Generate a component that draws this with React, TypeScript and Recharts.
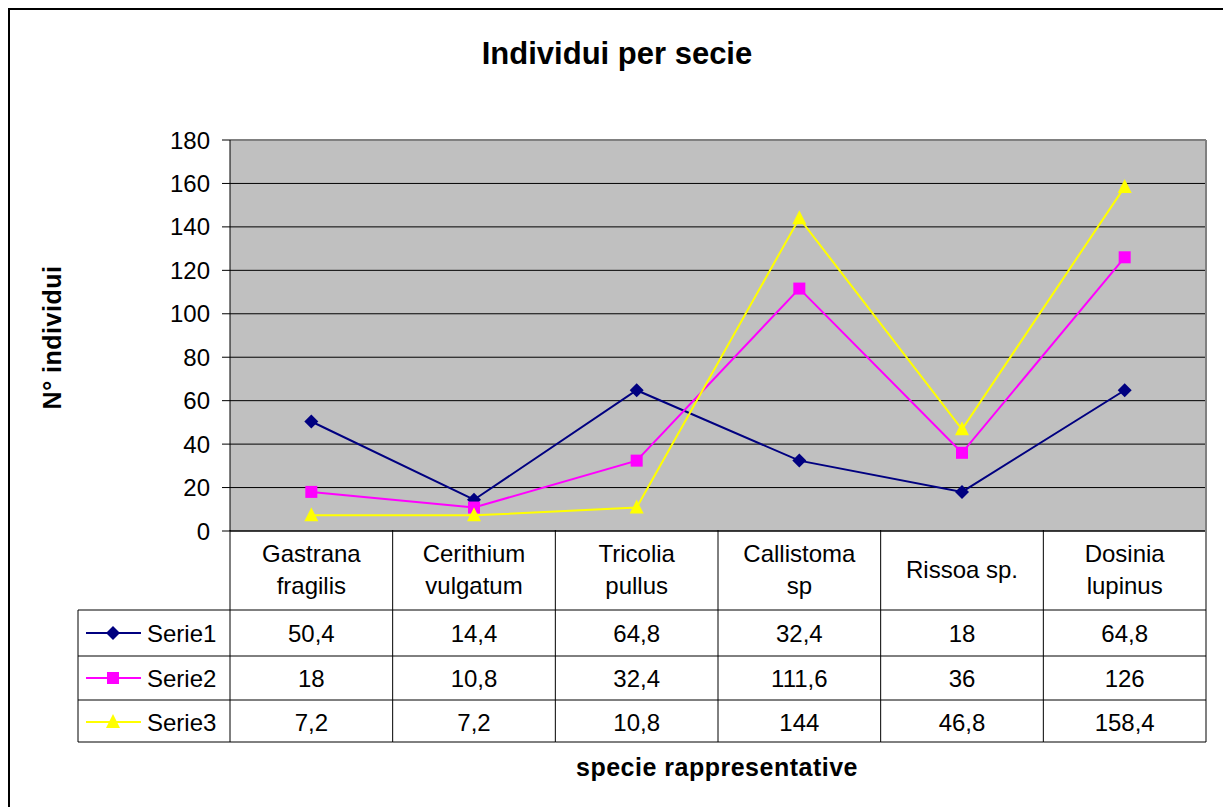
import { LineChart, Line, XAxis, YAxis, CartesianGrid, ReferenceLine } from "recharts";

const categories = [
  "Gastrana\nfragilis",
  "Cerithium\nvulgatum",
  "Tricolia\npullus",
  "Callistoma\nsp",
  "Rissoa sp.",
  "Dosinia\nlupinus",
];
const serie1 = [50.4, 14.4, 64.8, 32.4, 18, 64.8];
const serie2 = [18, 10.8, 32.4, 111.6, 36, 126];
const serie3 = [7.2, 7.2, 10.8, 144, 46.8, 158.4];
const seriesNames = ["Serie1", "Serie2", "Serie3"];
const yTicks = [0, 20, 40, 60, 80, 100, 120, 140, 160, 180];

const FONT = "Arial, 'Liberation Sans', sans-serif";

// layout of the plot area and the data table under it
const PLOT_LEFT = 230;
const PLOT_RIGHT = 1206;
const PLOT_TOP = 140;
const COL_W = (PLOT_RIGHT - PLOT_LEFT) / categories.length;
const ROW_LINES = [530, 610, 656, 700, 742];
const ROW_BASE = [642, 687, 731];
const LEGEND_LEFT = 78;

const seriesValues = [serie1, serie2, serie3];
const seriesStyle = [
  { key: "s1", color: "#000080", kind: "diamond" },
  { key: "s2", color: "#FF00FF", kind: "square" },
  { key: "s3", color: "#FFFF00", kind: "triangle" },
];

const rows = categories.map((name, i) => ({
  name,
  s1: serie1[i],
  s2: serie2[i],
  s3: serie3[i],
}));

const fmt = (v: number) => String(v).replace(".", ",");

function Marker({ kind, cx, cy, color }: { kind: string; cx: number; cy: number; color: string }) {
  if (kind === "diamond") {
    return (
      <polygon
        points={`${cx},${cy - 7} ${cx + 7},${cy} ${cx},${cy + 7} ${cx - 7},${cy}`}
        fill={color}
      />
    );
  }
  if (kind === "square") {
    return <rect x={cx - 6} y={cy - 6} width={12} height={12} fill={color} />;
  }
  return (
    <polygon
      points={`${cx},${cy - 8} ${cx + 7},${cy + 6} ${cx - 7},${cy + 6}`}
      fill={color}
    />
  );
}

function TableColumn(props: any) {
  const { x, index, payload } = props;
  const left = x - COL_W / 2;
  const right = x + COL_W / 2;
  const last = index === categories.length - 1;
  const lines = String(payload.value).split("\n");
  const catBase = lines.length === 1 ? [578] : [562, 594];
  const txt = { fontFamily: FONT, fontSize: 24, fill: "#000", textAnchor: "middle" as const };

  return (
    <g>
      {/* column borders */}
      <line x1={left} x2={left} y1={ROW_LINES[0]} y2={ROW_LINES[4]} stroke="#000" strokeWidth={1} />
      {last && (
        <line x1={right} x2={right} y1={PLOT_TOP} y2={ROW_LINES[4]} stroke="#808080" strokeWidth={2} />
      )}
      {ROW_LINES.slice(1).map((y) => (
        <line key={y} x1={left} x2={right} y1={y} y2={y} stroke="#000" strokeWidth={1} />
      ))}
      {lines.map((l, i) => (
        <text key={l} x={x} y={catBase[i]} {...txt}>
          {l}
        </text>
      ))}
      {seriesValues.map((vals, r) => (
        <text key={r} x={x} y={ROW_BASE[r]} {...txt}>
          {fmt(vals[index])}
        </text>
      ))}

      {/* legend column of the data table */}
      {index === 0 && (
        <g>
          <line x1={LEGEND_LEFT} x2={LEGEND_LEFT} y1={ROW_LINES[1]} y2={ROW_LINES[4]} stroke="#000" strokeWidth={1} />
          {ROW_LINES.slice(1).map((y) => (
            <line key={y} x1={LEGEND_LEFT} x2={left} y1={y} y2={y} stroke="#000" strokeWidth={1} />
          ))}
          {seriesStyle.map((s, r) => {
            const cy = ROW_BASE[r] - 9;
            return (
              <g key={s.key}>
                <line x1={86} x2={141} y1={cy} y2={cy} stroke={s.color} strokeWidth={2} />
                <Marker kind={s.kind} cx={113} cy={cy} color={s.color} />
                <text x={147} y={ROW_BASE[r]} fontFamily={FONT} fontSize={24} fill="#000">
                  {seriesNames[r]}
                </text>
              </g>
            );
          })}
        </g>
      )}
    </g>
  );
}

export default function App() {
  return (
    <div
      style={{
        position: "absolute",
        left: 0,
        top: 0,
        width: 1223,
        height: 807,
        overflow: "hidden",
        background: "#fff",
      }}
    >
      <div
        style={{
          position: "absolute",
          left: 8,
          top: 8,
          width: 1400,
          height: 1000,
          border: "2px solid #000",
        }}
      />
      <div
        style={{
          position: "absolute",
          left: 317,
          top: 38,
          width: 600,
          textAlign: "center",
          fontFamily: FONT,
          fontWeight: "bold",
          fontSize: 31,
          lineHeight: "31px",
        }}
      >
        Individui per secie
      </div>
      <div
        style={{
          position: "absolute",
          left: 517,
          top: 755,
          width: 400,
          textAlign: "center",
          fontFamily: FONT,
          fontWeight: "bold",
          fontSize: 25,
          lineHeight: "25px",
          letterSpacing: 0.5,
        }}
      >
        specie rappresentative
      </div>
      <div
        style={{
          position: "absolute",
          left: 52 - 150,
          top: 337 - 12.5,
          width: 300,
          height: 25,
          textAlign: "center",
          fontFamily: FONT,
          fontWeight: "bold",
          fontSize: 25,
          lineHeight: "25px",
          letterSpacing: 0.5,
          transform: "rotate(-90deg)",
        }}
      >
        N° individui
      </div>

      <div style={{ position: "absolute", left: 0, top: 0 }}>
        <LineChart
          width={1223}
          height={807}
          data={rows}
          margin={{ top: PLOT_TOP, right: 1223 - PLOT_RIGHT, bottom: 64, left: 130 }}
        >
          <CartesianGrid fill="#C0C0C0" fillOpacity={1} stroke="#000" vertical={false} />
          <ReferenceLine y={180} stroke="#808080" strokeWidth={2} />
          <XAxis
            dataKey="name"
            height={212}
            padding={{ left: COL_W / 2, right: COL_W / 2 }}
            interval={0}
            tickLine={false}
            tickSize={0}
            tickMargin={0}
            axisLine={{ stroke: "#000", strokeWidth: 1 }}
            tick={(p: any) => <TableColumn key={p.index} {...p} />}
          />
          <YAxis
            width={100}
            domain={[0, 180]}
            ticks={yTicks}
            interval={0}
            tickSize={8}
            tickMargin={12}
            axisLine={{ stroke: "#000" }}
            tickLine={{ stroke: "#000" }}
            tick={{ fontSize: 24, fill: "#000", fontFamily: FONT }}
          />
          {seriesStyle.map((s, i) => (
            <Line
              key={s.key}
              type="linear"
              dataKey={s.key}
              name={seriesNames[i]}
              stroke={s.color}
              strokeWidth={2}
              isAnimationActive={false}
              activeDot={false}
              dot={(p: any) => (
                <Marker key={`${s.key}-${p.index}`} kind={s.kind} cx={p.cx} cy={p.cy} color={s.color} />
              )}
            />
          ))}
        </LineChart>
      </div>
    </div>
  );
}
